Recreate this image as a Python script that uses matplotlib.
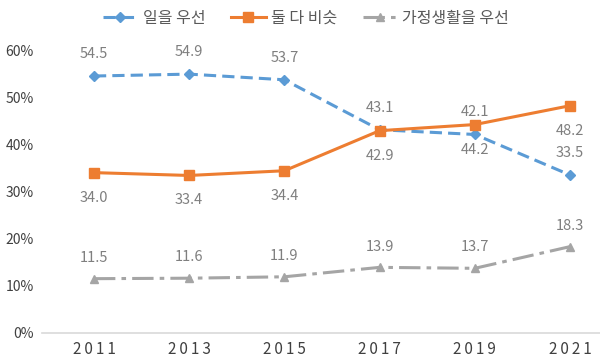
import numpy as np
import matplotlib.pyplot as plt

plt.rcParams['font.family'] = ['Noto Sans CJK KR', 'DejaVu Sans']

years = ['2011', '2013', '2015', '2017', '2019', '2021']
work_first = [54.5, 54.9, 53.7, 43.1, 42.1, 33.5]
both_same = [34.0, 33.4, 34.4, 42.9, 44.2, 48.2]
family_first = [11.5, 11.6, 11.9, 13.9, 13.7, 18.3]

blue = '#5B9BD5'
orange = '#ED7D31'
gray = '#A5A5A5'
label_col = '#7F7F7F'

fig = plt.figure(figsize=(6, 3.63), dpi=100)
ax = fig.add_axes([0.07, 0.083, 0.93, 0.779])
x = np.arange(len(years))

ax.plot(x, work_first, color=blue, lw=2.2, ls=(0, (4, 2)), marker='D', ms=5.5,
        label='일을 우선')
ax.plot(x, both_same, color=orange, lw=2.2, ls='-', marker='s', ms=7.5,
        label='둘 다 비슷')
ax.plot(x, family_first, color=gray, lw=2.2, ls=(0, (7, 2, 1.5, 2)), marker='^', ms=6,
        label='가정생활을 우선')

# data labels
for i in range(len(years)):
    ax.annotate('%.1f' % work_first[i], (x[i], work_first[i]), xytext=(0, 16),
                textcoords='offset points', ha='center', va='center', color=label_col, fontsize=10.5)
    ax.annotate('%.1f' % both_same[i], (x[i], both_same[i]), xytext=(0, -18),
                textcoords='offset points', ha='center', va='center', color=label_col, fontsize=10.5)
    ax.annotate('%.1f' % family_first[i], (x[i], family_first[i]), xytext=(0, 15),
                textcoords='offset points', ha='center', va='center', color=label_col, fontsize=10.5)

ax.set_ylim(0, 60)
ax.set_yticks(range(0, 61, 10))
ax.set_yticklabels(['%d%%' % v for v in range(0, 61, 10)])
ax.set_xlim(-0.546, 5.315)
ax.set_xticks(x)
ax.set_xticklabels(['\u2009'.join(y) for y in years])

for s in ['top', 'right', 'left']:
    ax.spines[s].set_visible(False)
ax.spines['bottom'].set_color('#D9D9D9')
ax.spines['bottom'].set_linewidth(1.2)
ax.tick_params(axis='y', length=0, labelsize=10, colors='#404040', pad=6)
ax.tick_params(axis='x', length=0, labelsize=11, colors='#404040', pad=6)

fig.legend(loc='center', bbox_to_anchor=(0.51, 0.95), ncol=3, frameon=False,
           fontsize=11.5, handlelength=2.2, columnspacing=1.6, handletextpad=0.3,
           labelcolor='#595959')

fig.savefig('out.png', dpi=100)
